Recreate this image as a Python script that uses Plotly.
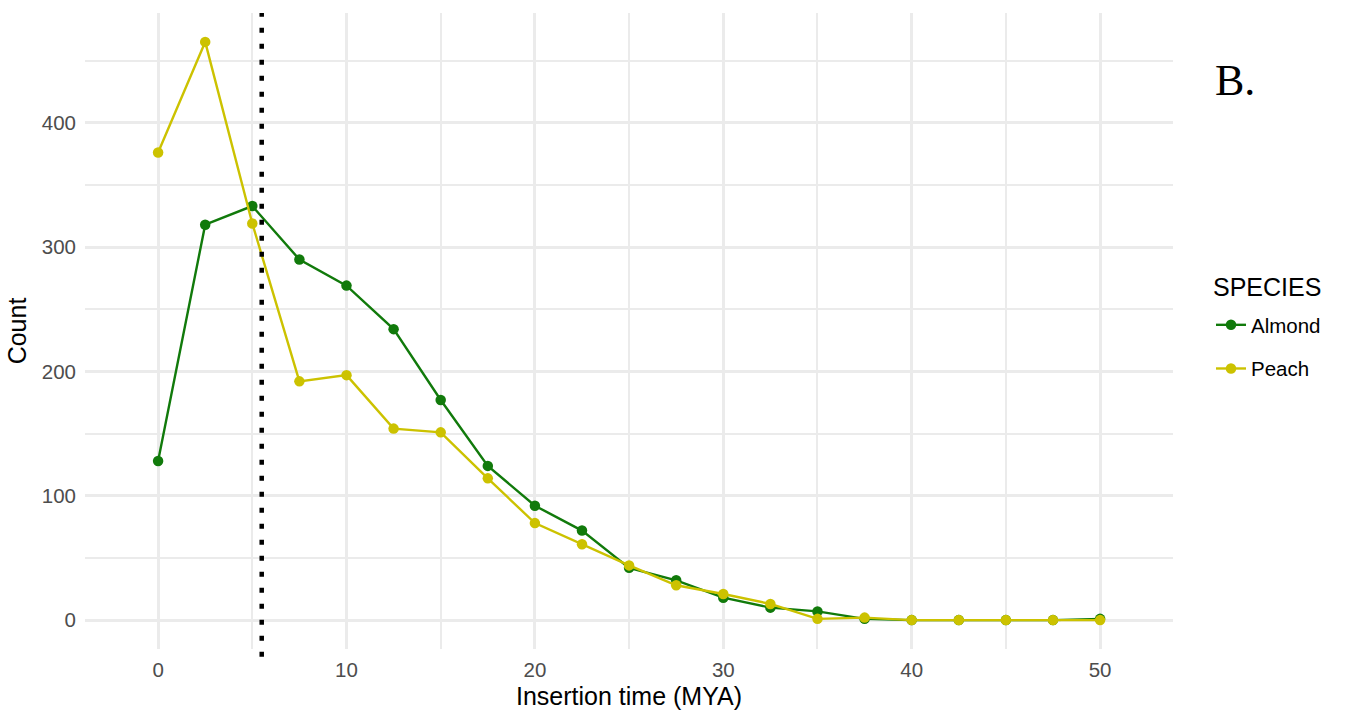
import plotly.graph_objects as go

insertion_time = [0, 2.5, 5, 7.5, 10, 12.5, 15, 17.5, 20, 22.5, 25, 27.5, 30, 32.5, 35, 37.5, 40, 42.5, 45, 47.5, 50]
almond = [128, 318, 333, 290, 269, 234, 177, 124, 92, 72, 42, 32, 18, 10, 7, 1, 0, 0, 0, 0, 1]
peach = [376, 465, 319, 192, 197, 154, 151, 114, 78, 61, 44, 28, 21, 13, 1, 2, 0, 0, 0, 0, 0]
x_ticks = [0, 10, 20, 30, 40, 50]
y_ticks = [0, 100, 200, 300, 400]
vline_x = 5.5

GREEN = "#117A0B"
YELLOW = "#CCC200"
FONT = "Liberation Sans, Arial, Helvetica, sans-serif"

fig = go.Figure()
fig.add_trace(go.Scatter(x=insertion_time, y=almond, mode="lines+markers", name="Almond",
                         legendgroup="a",
                         line=dict(color=GREEN, width=2.4), marker=dict(color=GREEN, size=10.5)))
fig.add_trace(go.Scatter(x=insertion_time, y=peach, mode="lines+markers", name="Peach",
                         legendgroup="p",
                         line=dict(color=YELLOW, width=2.4), marker=dict(color=YELLOW, size=10.5)))

fig.add_shape(type="line", xref="x", yref="paper", x0=vline_x, x1=vline_x, y0=-0.012, y1=1.0,
              line=dict(color="black", width=4.5, dash="5px,11px"), layer="above")

fig.add_annotation(text="B.", xref="paper", yref="paper", x=(1213 - 85) / 1088, y=(649 - 81) / 636,
                   xanchor="left", yanchor="middle", showarrow=False,
                   font=dict(family="Liberation Serif, Times New Roman, serif", size=44, color="black"))

fig.add_annotation(text="SPECIES", xref="paper", yref="paper", x=(1213 - 85) / 1088, y=(649 - 287) / 636,
                   xanchor="left", yanchor="middle", showarrow=False, xshift=-2,
                   font=dict(family=FONT, size=25, color="black"))

fig.update_layout(
    width=1349, height=716,
    margin=dict(l=85, r=176, t=13, b=67),
    paper_bgcolor="white", plot_bgcolor="white",
    font=dict(family=FONT, color="black"),
    showlegend=True,
    legend=dict(x=(1211 - 85) / 1088, xanchor="left", y=(649 - 305) / 636, yanchor="top",
                font=dict(size=20.5, color="black"), tracegroupgap=14,
                bgcolor="rgba(0,0,0,0)", traceorder="grouped"),
    xaxis=dict(range=[-3.88, 53.87], tickvals=x_ticks, showgrid=True, gridcolor="#EBEBEB", gridwidth=2.8,
               zeroline=False, showline=False, ticks="",
               tickfont=dict(size=20.5, color="#4D4D4D"), ticklabelstandoff=6,
               minor=dict(tick0=0, dtick=5, showgrid=True, gridcolor="#EBEBEB", gridwidth=1.5),
               title=dict(text="Insertion time (MYA)", font=dict(size=25, color="black"), standoff=7)),
    yaxis=dict(range=[-23.25, 488.25], tickvals=y_ticks, showgrid=True, gridcolor="#EBEBEB", gridwidth=2.8,
               zeroline=False, showline=False, ticks="",
               tickfont=dict(size=20.5, color="#4D4D4D"), ticklabelstandoff=8,
               minor=dict(tick0=0, dtick=50, showgrid=True, gridcolor="#EBEBEB", gridwidth=1.5),
               title=dict(text="Count", font=dict(size=25, color="black"), standoff=8)),
)

fig.write_html("out.html")
